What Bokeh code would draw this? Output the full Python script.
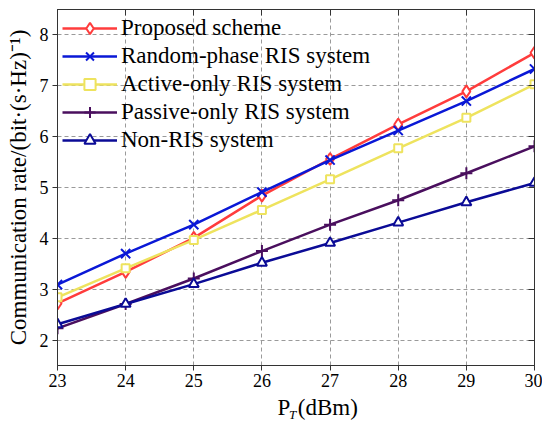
from bokeh.plotting import figure
from bokeh.models import (Range1d, LinearAxis, FixedTicker, Legend, LegendItem, Label,
                          CustomJSTickFormatter)
from bokeh.layouts import column
from bokeh.embed import file_html
from bokeh.resources import INLINE

power_dbm = [23, 24, 25, 26, 27, 28, 29, 30]
proposed = [2.72, 3.34, 4.01, 4.84, 5.56, 6.24, 6.89, 7.65]
random_phase = [3.09, 3.70, 4.27, 4.91, 5.54, 6.12, 6.70, 7.33]
active_only = [2.84, 3.41, 3.97, 4.56, 5.16, 5.77, 6.37, 7.03]
passive_only = [2.23, 2.71, 3.21, 3.75, 4.27, 4.75, 5.28, 5.81]
non_ris = [2.31, 2.71, 3.10, 3.52, 3.91, 4.31, 4.71, 5.09]
x_ticks = [23, 24, 25, 26, 27, 28, 29, 30]
y_ticks = [2, 3, 4, 5, 6, 7, 8]

names = ["Proposed scheme", "Random-phase RIS system", "Active-only RIS system",
         "Passive-only RIS system", "Non-RIS system"]
y_label = "Communication rate/(bit\u00b7(s\u00b7Hz)\u207b\u00b9)"
x_label_main, x_label_sub, x_label_unit = "P", "T", "(dBm)"
FONT = "Liberation Serif"

p = figure(width=542, height=395, output_backend="svg", toolbar_location=None,
           x_range=Range1d(23, 30), y_range=Range1d(1.5, 8.5),
           min_border_left=57, min_border_right=8, min_border_top=9, min_border_bottom=30)
p.outline_line_color = "#333333"
p.outline_line_width = 1
p.background_fill_color = "white"
p.border_fill_color = "white"

for ax in (p.xaxis[0], p.yaxis[0]):
    ax.major_label_text_font = FONT
    ax.major_label_text_font_size = "18px"
    ax.major_label_text_color = "black"
    ax.axis_line_color = "#333333"
    ax.major_tick_line_color = "#333333"
    ax.major_tick_in = 0
    ax.major_tick_out = 5
    ax.minor_tick_line_color = None
    ax.axis_label_text_font = FONT
    ax.axis_label_text_font_size = "23px"
    ax.axis_label_text_font_style = "normal"
    ax.axis_label_text_color = "black"
p.xaxis[0].ticker = FixedTicker(ticks=x_ticks)
p.yaxis[0].ticker = FixedTicker(ticks=y_ticks)
p.xaxis[0].major_label_standoff = 3
p.yaxis[0].major_label_standoff = 4
p.yaxis[0].axis_label = y_label
p.yaxis[0].axis_label_standoff = 6

blank = CustomJSTickFormatter(code="return ''")
top_ax = LinearAxis(ticker=FixedTicker(ticks=x_ticks), formatter=blank,
                    major_tick_in=6, major_tick_out=0, minor_tick_line_color=None,
                    axis_line_color="#333333", major_tick_line_color="#333333",
                    major_label_text_color=None, major_label_standoff=0)
right_ax = LinearAxis(ticker=FixedTicker(ticks=y_ticks), formatter=blank,
                      major_tick_in=6, major_tick_out=0, minor_tick_line_color=None,
                      axis_line_color="#333333", major_tick_line_color="#333333",
                      major_label_text_color=None, major_label_standoff=0)
p.add_layout(top_ax, "above")
p.add_layout(right_ax, "right")

for g in (p.xgrid[0], p.ygrid[0]):
    g.grid_line_color = "#9a9a9a"
    g.grid_line_dash = "4 3"
    g.grid_line_width = 1
p.xgrid[0].ticker = FixedTicker(ticks=x_ticks)
p.ygrid[0].ticker = FixedTicker(ticks=y_ticks)

series = [proposed, random_phase, active_only, passive_only, non_ris]
colors = ["#ff3c3c", "#0a18d6", "#eee35e", "#4a0f5e", "#0b0b96"]
markers = ["diamond", "x", "square", "cross", "triangle"]
sizes = [12, 13, 8, 12, 10]

items = []
for name, ys, c, m, s in zip(names, series, colors, markers, sizes):
    ln = p.line(power_dbm, ys, line_color=c, line_width=2.5)
    sc = p.scatter(power_dbm, ys, marker=m, size=s, line_color=c, line_width=2,
                   fill_color="white" if m not in ("x", "cross") else None)
    items.append(LegendItem(label=name, renderers=[ln, sc]))

legend = Legend(items=items, location="top_left")
legend.background_fill_alpha = 0
legend.border_line_alpha = 0
legend.label_text_font = FONT
legend.label_text_font_size = "23px"
legend.label_text_color = "black"
legend.glyph_width = 55
legend.glyph_height = 28
legend.label_height = 28
legend.label_standoff = 4
legend.spacing = 0
legend.padding = 5
legend.margin = 0
p.add_layout(legend)

# strip below the chart holding the x-axis title P_T (dBm)
p2 = figure(width=542, height=27, output_backend="svg", toolbar_location=None,
            x_range=Range1d(0, 542), y_range=Range1d(0, 27),
            x_axis_location=None, y_axis_location=None, title=None,
            min_border_left=0, min_border_right=0, min_border_top=0, min_border_bottom=0)
p2.grid.visible = False
p2.outline_line_color = None
p2.background_fill_color = "white"
p2.border_fill_color = "white"
p2.add_layout(Label(x=250, y=15, text=x_label_main, text_font=FONT, text_font_size="23px",
                    text_color="black", text_align="left", text_baseline="alphabetic"))
p2.add_layout(Label(x=263, y=8, text=x_label_sub, text_font=FONT, text_font_size="13px",
                    text_font_style="italic", text_color="black", text_align="left",
                    text_baseline="alphabetic"))
p2.add_layout(Label(x=273, y=15, text=x_label_unit, text_font=FONT, text_font_size="23px",
                    text_color="black", text_align="left", text_baseline="alphabetic"))

layout = column(p, p2, spacing=0)
open("out.html", "w").write(file_html(layout, INLINE))
